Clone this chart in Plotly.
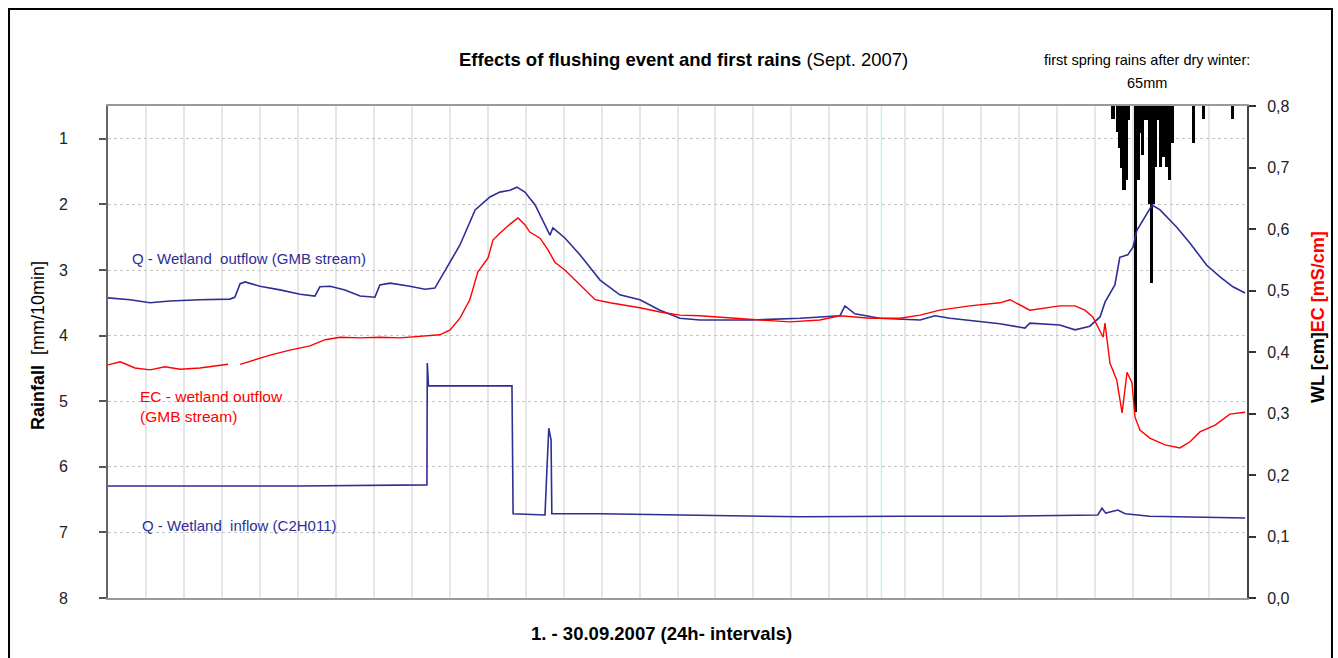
import plotly.graph_objects as go

# ---------------- data ----------------
# Q - wetland outflow (GMB stream)  [day, WL]
q_out_day = [0.00, 0.58, 1.11, 1.63, 2.42, 3.21, 3.34, 3.48, 3.61, 4.00, 4.53, 5.06, 5.45, 5.58, 5.85,
             6.24, 6.64, 7.03, 7.16, 7.43, 7.95, 8.35, 8.61, 8.88, 9.27, 9.67, 10.06, 10.32, 10.59,
             10.77, 10.98, 11.25, 11.51, 11.64, 11.72, 12.04, 12.43, 12.96, 13.48, 14.01, 14.54,
             15.06, 15.59, 16.91, 18.23, 19.28, 19.41, 19.67, 20.33, 21.39, 21.78, 22.18, 23.49,
             24.15, 24.28, 25.07, 25.47, 25.86, 26.13, 26.26, 26.52, 26.65, 26.86, 27.00, 27.10,
             27.36, 27.50, 27.71, 28.15, 28.50, 28.94, 29.29, 29.63, 29.95]
q_out_val = [0.488, 0.485, 0.480, 0.483, 0.485, 0.486, 0.489, 0.511, 0.514, 0.507, 0.501, 0.494, 0.491,
             0.506, 0.507, 0.501, 0.491, 0.489, 0.509, 0.512, 0.507, 0.502, 0.504, 0.533, 0.574, 0.631,
             0.652, 0.660, 0.663, 0.668, 0.660, 0.639, 0.607, 0.590, 0.602, 0.585, 0.558, 0.517, 0.493,
             0.485, 0.468, 0.455, 0.452, 0.452, 0.455, 0.459, 0.475, 0.462, 0.455, 0.452, 0.459, 0.455,
             0.446, 0.439, 0.447, 0.444, 0.436, 0.442, 0.457, 0.481, 0.509, 0.554, 0.558, 0.571, 0.598,
             0.626, 0.639, 0.631, 0.603, 0.577, 0.541, 0.522, 0.506, 0.496]

# EC - wetland outflow (GMB stream)  [day, mS/cm]  (None = data gap)
ec_day = [0.00, 0.32, 0.71, 1.11, 1.50, 1.90, 2.42, 2.82, 3.16, 3.30, 3.48, 3.87, 4.27, 4.79, 5.32,
          5.72, 6.11, 6.64, 7.16, 7.69, 8.22, 8.74, 9.01, 9.27, 9.53, 9.74, 10.01, 10.14, 10.32, 10.59,
          10.80, 10.98, 11.11, 11.38, 11.59, 11.77, 12.04, 12.30, 12.56, 12.83, 13.22, 13.62, 14.01,
          14.54, 15.06, 15.59, 16.38, 17.17, 17.96, 18.75, 19.28, 20.07, 20.86, 21.39, 21.91, 22.70,
          23.49, 23.76, 24.28, 25.07, 25.47, 25.73, 25.94, 26.21, 26.26, 26.39, 26.57, 26.71, 26.84,
          26.97, 27.05, 27.18, 27.44, 27.84, 28.23, 28.50, 28.76, 29.16, 29.55, 29.95]
ec_val = [0.379, 0.384, 0.374, 0.371, 0.376, 0.372, 0.374, 0.377, 0.380, None, 0.380, 0.387, 0.395,
          0.403, 0.410, 0.420, 0.424, 0.423, 0.424, 0.423, 0.426, 0.428, 0.436, 0.455, 0.485, 0.530,
          0.553, 0.582, 0.593, 0.608, 0.618, 0.607, 0.595, 0.585, 0.566, 0.546, 0.533, 0.517, 0.501,
          0.485, 0.480, 0.476, 0.472, 0.465, 0.460, 0.459, 0.455, 0.452, 0.449, 0.452, 0.459, 0.455,
          0.455, 0.460, 0.468, 0.475, 0.480, 0.485, 0.468, 0.475, 0.475, 0.468, 0.457, 0.424, 0.447,
          0.382, 0.354, 0.301, 0.367, 0.350, 0.294, 0.273, 0.260, 0.249, 0.244, 0.254, 0.270, 0.281,
          0.299, 0.302]

# Q - wetland inflow (C2H011)
q_in_day = [0.00, 2.42, 5.00, 8.40, 8.41, 8.44, 10.64, 10.67, 11.51, 11.56, 11.61, 11.67, 11.69, 12.96,
            15.59, 18.23, 20.86, 23.49, 26.07, 26.18, 26.28, 26.60, 26.79, 27.44, 29.95]
q_in_val = [0.182, 0.182, 0.182, 0.184, 0.382, 0.345, 0.345, 0.137, 0.135, 0.208, 0.276, 0.257, 0.137,
            0.137, 0.135, 0.132, 0.133, 0.133, 0.135, 0.146, 0.138, 0.143, 0.137, 0.133, 0.130]

# Rainfall [mm/10min]
rain_day = [26.47, 26.59, 26.64, 26.69, 26.76, 26.83, 26.87, 27.06, 27.14, 27.19, 27.26, 27.34, 27.42,
            27.48, 27.54, 27.60, 27.67, 27.73, 27.80, 27.88, 27.97, 28.04, 28.59, 28.85, 29.62]
rain_mm = [0.70, 0.90, 1.14, 1.45, 1.78, 1.63, 0.71, 5.16, 1.63, 0.91, 1.25, 0.72, 2.00, 3.20, 2.00,
           1.43, 0.71, 1.43, 1.28, 1.43, 1.63, 1.06, 1.06, 0.70, 0.70]

rain_ticks = [1, 2, 3, 4, 5, 6, 7, 8]
marked_day = 20.37

BLUE = "#2e2e96"
RED = "#ff0000"
FONT = "Liberation Sans, Arial, sans-serif"

fig = go.Figure()
fig.add_trace(go.Bar(x=rain_day, y=rain_mm, width=0.08, marker=dict(color="black", line=dict(width=0)),
                     yaxis="y", showlegend=False))
fig.add_trace(go.Scatter(x=q_out_day, y=q_out_val, mode="lines", line=dict(color=BLUE, width=1.6),
                         yaxis="y2", showlegend=False))
fig.add_trace(go.Scatter(x=ec_day, y=ec_val, mode="lines", line=dict(color=RED, width=1.4),
                         yaxis="y2", showlegend=False, connectgaps=False))
fig.add_trace(go.Scatter(x=q_in_day, y=q_in_val, mode="lines", line=dict(color=BLUE, width=1.6),
                         yaxis="y2", showlegend=False))

fig.add_vline(x=marked_day, line=dict(color="#c8f0f4", width=1.5), layer="below")

fig.update_layout(
    width=1338, height=658, autosize=False,
    margin=dict(l=108, r=91, t=106, b=60),
    paper_bgcolor="white", plot_bgcolor="white",
    separators=",.",
    font=dict(family=FONT, color="black", size=15),
    bargap=0,
    xaxis=dict(range=[0, 30], tick0=0, dtick=1, showgrid=True, gridcolor="#e6e6e6", gridwidth=2,
               showticklabels=False, ticks="", zeroline=False, showline=True, linecolor="#9a9a9a",
               linewidth=2, mirror=True),
    yaxis=dict(range=[8, 0.5], tickvals=rain_ticks, ticks="outside", ticklen=7, tickcolor="#555",
               tickwidth=1.5, showline=True, linecolor="#666", linewidth=2, showgrid=True,
               gridcolor="#c4c4c4", griddash="dot", gridwidth=1, zeroline=False,
               ticklabelstandoff=28, tickfont=dict(size=16, color="#222")),
    yaxis2=dict(range=[0, 0.8], dtick=0.1, tick0=0, tickformat=".1f", overlaying="y", side="right",
                ticks="outside", ticklen=7, tickcolor="#333", tickwidth=1.5, showline=True,
                linecolor="#444", linewidth=2, showgrid=False, zeroline=False,
                ticklabelstandoff=8, tickfont=dict(size=16, color="#222")),
)

ann = [
    dict(text="<b>Effects of flushing event and first rains</b> (Sept. 2007)", x=0.505, y=1.0935,
         font=dict(size=18.5)),
    dict(text="first spring rains after dry winter:", x=0.912, y=1.0935, font=dict(size=14.5)),
    dict(text="65mm", x=0.912, y=1.0467, font=dict(size=14.5)),
    dict(text="Q - Wetland  outflow (GMB stream)", x=0.0193, y=0.691, xanchor="left",
         font=dict(size=15, color=BLUE)),
    dict(text="EC - wetland outflow<br>(GMB stream)", x=0.0263, y=0.390, xanchor="left", align="left",
         font=dict(size=15.5, color=RED)),
    dict(text="Q - Wetland  inflow (C2H011)", x=0.0281, y=0.148, xanchor="left",
         font=dict(size=15, color=BLUE)),
    dict(text="<b>1. - 30.09.2007 (24h- intervals)</b>", x=0.486, y=-0.073, font=dict(size=18.5)),
    dict(text="<b>Rainfall</b>  [mm/10min]", x=-0.0615, y=0.514, textangle=-90, font=dict(size=18)),
    dict(text="<b>WL [cm]</b><b><span style='color:red'>EC [mS/cm]</span></b>", x=1.0623, y=0.571,
         textangle=-90, font=dict(size=18)),
]
for a in ann:
    a.setdefault("xanchor", "center")
    fig.add_annotation(xref="paper", yref="paper", showarrow=False, yanchor="middle", **a)

fig.add_shape(type="rect", xref="paper", yref="paper", x0=-0.0869, x1=1.0746, y0=-0.25, y1=1.197,
              line=dict(color="black", width=2), layer="above")

fig.write_html("out.html")
